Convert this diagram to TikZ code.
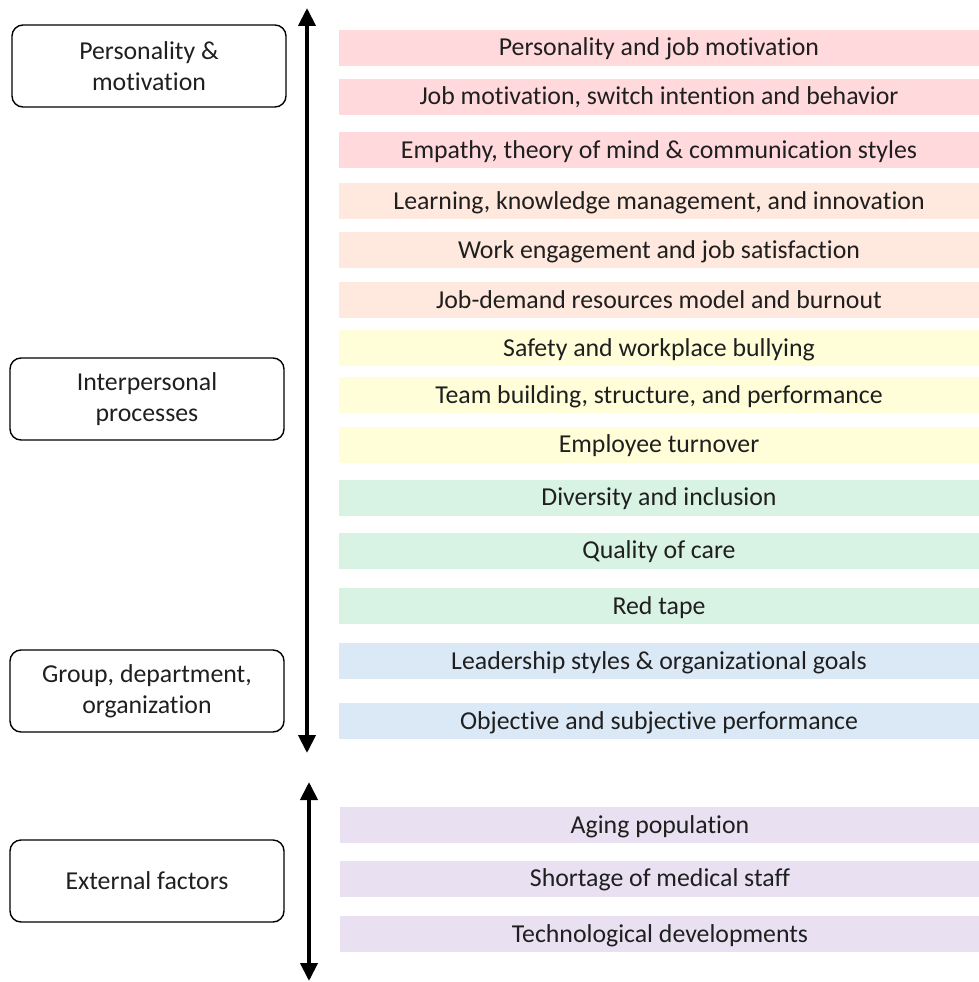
\documentclass[tikz,border=0pt]{standalone}
\usepackage{fontspec}
\setmainfont{Carlito}[Ligatures=NoCommon]
\usepackage{tikz}
\usetikzlibrary{arrows.meta,positioning}
\definecolor{barpink}{RGB}{255,217,219}
\definecolor{barpeach}{RGB}{255,232,221}
\definecolor{baryellow}{RGB}{255,254,216}
\definecolor{bargreen}{RGB}{216,242,228}
\definecolor{barblue}{RGB}{219,233,246}
\definecolor{barpurple}{RGB}{233,225,241}

\begin{document}
\begin{tikzpicture}[x=1pt, y=-1pt]
\useasboundingbox (0,0) rectangle (979,982);
\tikzset{
  topic/.style = {minimum width=640pt, minimum height=36pt, inner sep=0pt,
    text height=19pt, text depth=3pt,
    font=\fontsize{25.8}{30}\selectfont, text=black!88},
  level/.style = {draw, rounded corners=11pt, line width=1.4pt, minimum width=274pt,
    minimum height=82pt, align=center, font=\fontsize{25.8}{31}\selectfont, text=black!88},
  scale arrow/.style = {line width=4pt, {Triangle[width=17pt,length=18pt]}-{Triangle[width=17pt,length=18pt]}}
}
% levels on the left
\node[level] (pers) at (149,66) {Personality \&\\motivation};
\node[level] (inter) at (147,399) {Interpersonal\\processes};
\node[level] (group) at (147,691) {Group, department,\\organization};
\node[level] (ext) at (147,881) {External factors};

% topics, grouped by colour
\node[topic, fill=barpink] (t1) at (659,48) {Personality and job motivation};
\node[topic, fill=barpink] (t2) at (659,96.5) {Job motivation, switch intention and behavior};
\node[topic, fill=barpink] (t3) at (659,150) {Empathy, theory of mind \& communication styles};
\node[topic, fill=barpeach] (t4) at (659,201) {Learning, knowledge management, and innovation};
\node[topic, fill=barpeach] (t5) at (659,250) {Work engagement and job satisfaction};
\node[topic, fill=barpeach] (t6) at (659,300) {Job-demand resources model and burnout};
\node[topic, fill=baryellow] (t7) at (659,348) {Safety and workplace bullying};
\node[topic, fill=baryellow] (t8) at (659,395) {Team building, structure, and performance};
\node[topic, fill=baryellow] (t9) at (659,444.5) {Employee turnover};
\node[topic, fill=bargreen] (t10) at (659,497.5) {Diversity and inclusion};
\node[topic, fill=bargreen] (t11) at (659,550.5) {Quality of care};
\node[topic, fill=bargreen] (t12) at (659,606) {Red tape};
\node[topic, fill=barblue] (t13) at (659,661) {Leadership styles \& organizational goals};
\node[topic, fill=barblue] (t14) at (659,721) {Objective and subjective performance};
\node[topic, fill=barpurple] (t15) at (660,825) {Aging population};
\node[topic, fill=barpurple] (t16) at (660,878.5) {Shortage of medical staff};
\node[topic, fill=barpurple] (t17) at (660,934) {Technological developments};

% double arrows
\coordinate (a1) at (307,8);
\coordinate (a2) at (307,753);
\coordinate (b1) at (309,782);
\coordinate (b2) at (309,981);
\draw[scale arrow] (a1) -- (a2);
\draw[scale arrow] (b1) -- (b2);
\end{tikzpicture}
\end{document}
